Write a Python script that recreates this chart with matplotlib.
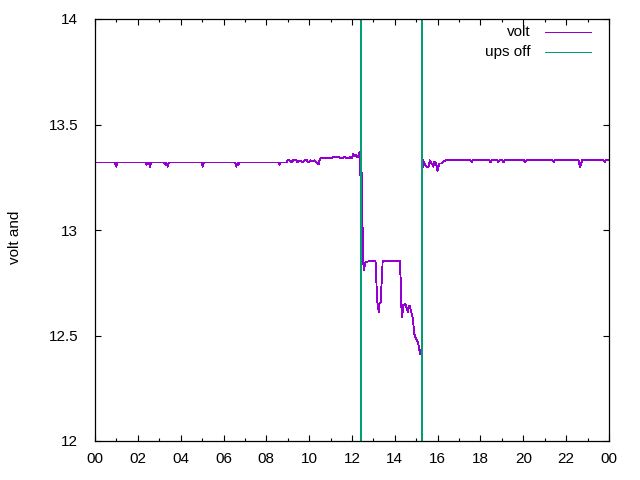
import matplotlib
matplotlib.use("Agg")
import matplotlib.pyplot as plt
from matplotlib.lines import Line2D
from matplotlib.ticker import MultipleLocator

plt.rcParams['font.family'] = ['Liberation Sans', 'DejaVu Sans']

# time in hours, voltage
volt_t = [0.00, 0.93, 0.99, 1.05, 2.35, 2.40, 2.46, 2.52, 2.57, 2.63,
          3.22, 3.27, 3.33, 3.40, 3.45, 4.98, 5.03, 5.08,
          6.55, 6.60, 6.66, 6.69, 6.75, 8.56, 8.61, 8.66,
          8.93, 9.00, 9.10, 9.15, 9.25, 9.40, 9.45, 9.55, 9.70, 9.80, 9.90, 9.95,
          10.05, 10.15, 10.25, 10.35, 10.44, 10.48, 10.52, 11.05, 11.10, 11.40,
          11.50, 11.65, 11.80, 11.90, 12.00, 12.06, 12.12, 12.18, 12.24, 12.30,
          12.35, 12.39, 12.43, 12.48, 12.52, 12.56, 12.62, 12.72, 12.86, 13.00,
          13.10, 13.14, 13.19, 13.25, 13.28, 13.34, 13.43, 13.46, 14.23, 14.28,
          14.31, 14.34, 14.40, 14.48, 14.56, 14.61, 14.64, 14.70, 14.76, 14.82,
          14.87, 14.90, 14.96, 15.02, 15.09, 15.15, 15.18, 15.22, 15.255, 15.28,
          15.33, 15.40, 15.49, 15.57, 15.64, 15.70, 15.75, 15.80, 15.84, 15.93,
          15.99, 16.07, 16.16, 16.21, 16.38, 17.54, 17.59, 17.64, 18.41, 18.46,
          18.51, 18.78, 18.83, 18.88, 19.02, 19.07, 19.12, 20.03, 20.08, 20.13,
          21.37, 21.42, 21.47, 22.59, 22.64, 22.69, 22.74, 23.75, 23.80, 23.85,
          24.00]
volt_v = [13.32, 13.32, 13.30, 13.32, 13.32, 13.31, 13.32, 13.32, 13.30, 13.32,
          13.32, 13.31, 13.32, 13.30, 13.32, 13.32, 13.30, 13.32,
          13.32, 13.30, 13.32, 13.31, 13.32, 13.32, 13.31, 13.32,
          13.32, 13.33, 13.33, 13.32, 13.33, 13.33, 13.32, 13.33, 13.32, 13.33, 13.33, 13.32,
          13.33, 13.325, 13.33, 13.32, 13.31, 13.33, 13.34, 13.34, 13.345, 13.345,
          13.34, 13.345, 13.34, 13.345, 13.34, 13.36, 13.35, 13.355, 13.345, 13.35,
          13.37, 13.26, 13.37, 13.10, 12.85, 12.81, 12.845, 12.85, 12.855, 12.855,
          12.85, 12.75, 12.65, 12.61, 12.65, 12.66, 12.85, 12.855, 12.855, 12.75,
          12.62, 12.585, 12.645, 12.65, 12.63, 12.61, 12.64, 12.64, 12.615, 12.59,
          12.55, 12.51, 12.49, 12.48, 12.465, 12.43, 12.41, 12.43, 12.42, 13.28,
          13.33, 13.31, 13.30, 13.30, 13.33, 13.315, 13.31, 13.30, 13.325, 13.315,
          13.28, 13.315, 13.315, 13.32, 13.33, 13.33, 13.32, 13.33, 13.33, 13.32,
          13.33, 13.33, 13.32, 13.33, 13.33, 13.32, 13.33, 13.33, 13.32, 13.33,
          13.33, 13.32, 13.33, 13.33, 13.30, 13.31, 13.33, 13.33, 13.32, 13.33,
          13.33]

ups_t = [0.00, 12.40, 12.43, 15.25, 15.27, 24.00]
ups_v = [0, 0, 20, 20, 0, 0]

xtick_vals = list(range(0, 25, 2))
xtick_labels = ["00", "02", "04", "06", "08", "10", "12", "14", "16", "18", "20", "22", "00"]
ytick_vals = [12, 12.5, 13, 13.5, 14]
ytick_labels = ["12", "12.5", "13", "13.5", "14"]

C_VOLT = "#9400D3"
C_UPS = "#009E73"
LW = 0.6

fig = plt.figure(figsize=(6.4, 4.8), dpi=100)
ax = fig.add_axes([95/640, 1-441/480, 514/640, 422/480])

ax.plot(volt_t, volt_v, color=C_VOLT, lw=LW, antialiased=False)
ax.plot(ups_t, ups_v, color=C_UPS, lw=LW, antialiased=False)

ax.set_xlim(0, 24)
ax.set_ylim(12, 14)
ax.set_xticks(xtick_vals)
ax.set_xticklabels(xtick_labels)
ax.xaxis.set_minor_locator(MultipleLocator(1))
ax.set_yticks(ytick_vals)
ax.set_yticklabels(ytick_labels)

ax.tick_params(which='major', direction='in', top=True, right=True, length=4.5,
               width=0.8, labelsize=11, color='black')
ax.tick_params(which='minor', direction='in', top=True, right=True, length=2.2,
               width=0.8)
ax.tick_params(axis='x', which='major', pad=8)
ax.tick_params(axis='y', which='major', pad=12)
for s in ax.spines.values():
    s.set_linewidth(0.9)

fig.text(15/640, 1-237/480, "volt and", rotation=90, ha='center', va='center', fontsize=11)

# legend (gnuplot style: text right-aligned, sample after)
for i, (lab, col) in enumerate([("volt", C_VOLT), ("ups off", C_UPS)]):
    yy = 1 - (32 + 20*i)/480
    fig.text(531/640, yy, lab, ha='right', va='center', fontsize=11)
    fig.add_artist(Line2D([545/640, 591/640], [yy, yy], color=col, lw=LW,
                          antialiased=False, transform=fig.transFigure))

fig.savefig("out.png", dpi=100)
